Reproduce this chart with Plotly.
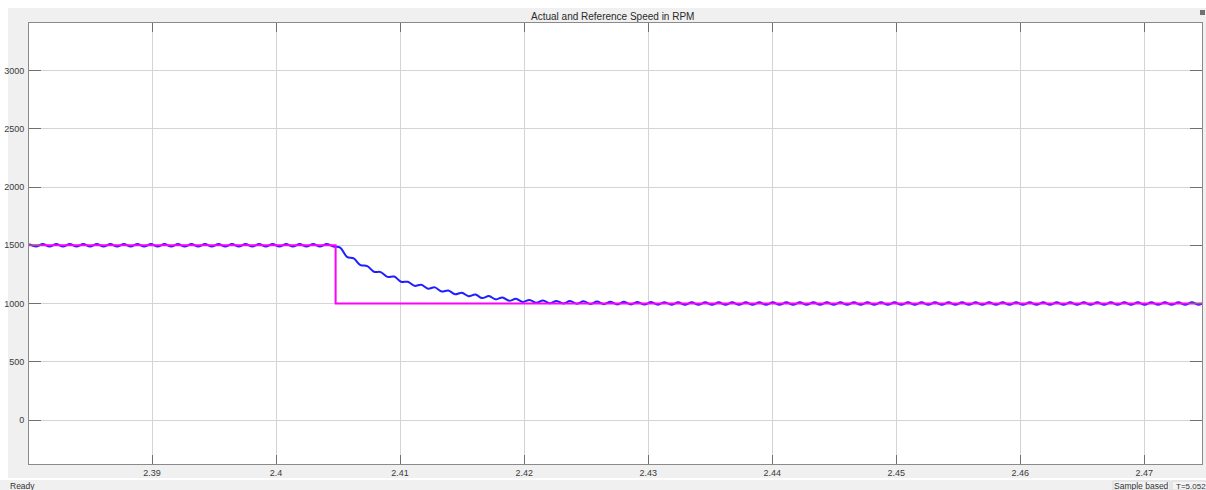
import numpy as np
import plotly.graph_objects as go

# ---------------- data ----------------
title_text = "Actual and Reference Speed in RPM"

# reference speed (step change)
ref_time = [2.3801, 2.4048, 2.4048, 2.4747]
ref_rpm = [1500, 1500, 1000, 1000]

# actual speed: samples at successive ripple peaks / troughs
act_t0 = 2.3801
act_half_period = 0.000545
act_rpm = [
    1511, 1489, 1511, 1489, 1511, 1489, 1511, 1489, 1511, 1489,
    1511, 1489, 1511, 1489, 1511, 1489, 1511, 1489, 1511, 1489,
    1511, 1489, 1511, 1489, 1511, 1489, 1511, 1489, 1511, 1489,
    1511, 1489, 1511, 1489, 1511, 1489, 1511, 1489, 1511, 1489,
    1511, 1489, 1511, 1489, 1511, 1489,
    1481, 1401, 1387, 1330, 1322, 1273, 1270, 1229, 1232, 1187,
    1187, 1152, 1162, 1128, 1139, 1103, 1112, 1080, 1093, 1063,
    1077, 1047, 1064, 1036, 1052, 1024, 1041, 1014, 1031, 1007,
    1027, 1003, 1023, 1000, 1021, 998, 1019, 996, 1017, 995,
    1016, 993, 1015, 992, 1014, 991, 1013, 990, 1012, 989,
    1011, 989, 1011, 989, 1011, 989, 1011, 989, 1011, 989,
    1011, 989, 1011, 989, 1011, 989, 1011, 989, 1011, 989,
    1011, 989, 1011, 989, 1011, 989, 1011, 989, 1011, 989,
    1011, 989, 1011, 989, 1011, 989, 1011, 989, 1011, 989,
    1011, 989, 1011, 989, 1011, 989, 1011, 989, 1011, 989,
    1011, 989, 1011, 989, 1011, 989, 1011, 989, 1011, 989,
    1011, 989, 1011, 989, 1011, 989, 1011, 989, 1011, 989,
    1011, 989, 1011, 989, 1011, 989, 1011, 989, 1011, 989,
]
act_time = act_t0 + act_half_period * np.arange(len(act_rpm))

x_range = [2.38008, 2.47465]
y_range = [-377, 3408]
x_ticks = [2.39, 2.40, 2.41, 2.42, 2.43, 2.44, 2.45, 2.46, 2.47]
x_tick_text = ["2.39", "2.4", "2.41", "2.42", "2.43", "2.44", "2.45", "2.46", "2.47"]
y_ticks = [0, 500, 1000, 1500, 2000, 2500, 3000]

status_left = "Ready"
status_mode = "Sample based"
status_time = "T=5.052"

# ---------------- figure ----------------
W, H = 1206, 490
L, R, T, B = 29, 4, 23, 26
pw, ph = W - L - R, H - T - B


def px(x):
    return (x - L) / pw


def py(y):
    return (H - B - y) / ph


fig = go.Figure()
fig.add_trace(go.Scatter(
    x=act_time, y=act_rpm, mode="lines",
    line=dict(color="#1f1fff", width=2, shape="spline", smoothing=1.0),
    hoverinfo="skip", showlegend=False))
fig.add_trace(go.Scatter(
    x=ref_time, y=ref_rpm, mode="lines",
    line=dict(color="#ff00ff", width=2),
    hoverinfo="skip", showlegend=False))

font_family = "Liberation Sans, Arial, sans-serif"
axis_common = dict(
    showline=True, linecolor="#8a8a8a", linewidth=1, mirror="ticks",
    ticks="inside", tickcolor="#707070", tickwidth=1,
    showgrid=True, gridcolor="#d4d4d4", gridwidth=1,
    zeroline=False, tickfont=dict(family=font_family, size=9, color="#3a3a3a"),
)

fig.update_xaxes(range=x_range, tickvals=x_ticks, ticktext=x_tick_text,
                 ticklen=9, **axis_common)
fig.update_yaxes(range=y_range, tickvals=y_ticks, ticklen=12,
                 ticklabelstandoff=2, **axis_common)

shapes = [
    # grey figure panel
    dict(type="rect", xref="paper", yref="paper", x0=px(8), x1=px(1206),
         y0=py(478), y1=py(8), fillcolor="#f0f0f0", line=dict(width=0),
         layer="below"),
    # white axes area
    dict(type="rect", xref="paper", yref="paper", x0=0, x1=1, y0=0, y1=1,
         fillcolor="#ffffff", line=dict(width=0), layer="below"),
    # status bar
    dict(type="rect", xref="paper", yref="paper", x0=px(0), x1=px(1206),
         y0=py(490), y1=py(480), fillcolor="#f0f0f0", line=dict(width=0),
         layer="below"),
    dict(type="rect", xref="paper", yref="paper", x0=px(1113), x1=px(1170),
         y0=py(490), y1=py(481), fillcolor="#f4f4f4",
         line=dict(width=1, color="#d8d8d8"), layer="below"),
    dict(type="rect", xref="paper", yref="paper", x0=px(1172), x1=px(1210),
         y0=py(490), y1=py(481), fillcolor="#f4f4f4",
         line=dict(width=1, color="#d8d8d8"), layer="below"),
    # small icon top right
    dict(type="rect", xref="paper", yref="paper", x0=px(1200), x1=px(1205),
         y0=py(15), y1=py(10), fillcolor="#707070", line=dict(width=0)),
]

annotations = [
    dict(text=title_text, xref="paper", yref="paper", x=px(612), y=py(16),
         xanchor="center", yanchor="middle", showarrow=False,
         font=dict(family=font_family, size=10, color="#2a2a2a")),
    dict(text=status_left, xref="paper", yref="paper", x=px(8), y=py(486),
         xanchor="left", yanchor="middle", showarrow=False,
         font=dict(family=font_family, size=8.5, color="#333333")),
    dict(text=status_mode, xref="paper", yref="paper", x=px(1141), y=py(486),
         xanchor="center", yanchor="middle", showarrow=False,
         font=dict(family=font_family, size=8.5, color="#333333")),
    dict(text=status_time, xref="paper", yref="paper", x=px(1174), y=py(486),
         xanchor="left", yanchor="middle", showarrow=False,
         font=dict(family=font_family, size=8, color="#333333")),
]

fig.update_layout(
    width=W, height=H,
    margin=dict(l=L, r=R, t=T, b=B, pad=0),
    paper_bgcolor="#ffffff", plot_bgcolor="#ffffff",
    shapes=shapes, annotations=annotations,
    showlegend=False,
)

fig.write_html("out.html", include_plotlyjs=True, full_html=True,
               config=dict(displayModeBar=False))
